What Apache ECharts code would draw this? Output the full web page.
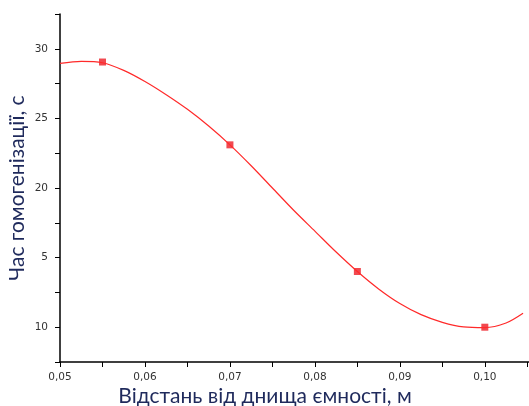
<!DOCTYPE html>
<html>
<head>
<meta charset="utf-8">
<script src="https://cdn.jsdelivr.net/npm/echarts@6/dist/echarts.min.js"></script>
<style>
  html, body { margin: 0; padding: 0; background: #fff; }
  #chart1 { width: 529px; height: 406px; }
</style>
</head>
<body>
<div id="chart1"></div>
<script>
// measured points
var pointX = [0.055, 0.070, 0.085, 0.100];
var pointY = [29.05, 23.1, 14.0, 10.0];

// fitted curve
var curveX = [0.050, 0.0525, 0.055, 0.0575, 0.060, 0.0625, 0.065, 0.0675, 0.070, 0.0725, 0.075,
              0.0775, 0.080, 0.0825, 0.085, 0.0875, 0.090, 0.0925, 0.095, 0.0975, 0.100, 0.1025, 0.1045];
var curveY = [28.95, 29.1, 29.0, 28.45, 27.65, 26.7, 25.65, 24.45, 23.1, 21.6, 20.0,
              18.4, 16.9, 15.4, 14.0, 12.75, 11.7, 10.9, 10.35, 10.02, 9.97, 10.3, 11.0];

// y tick labels as printed on the original
var yTickLabels = { '10': '10', '15': '5', '20': '20', '25': '25', '30': '30' };

var curve = curveX.map(function (x, i) { return [x, curveY[i]]; });
var points = pointX.map(function (x, i) { return [x, pointY[i]]; });

var weChart = echarts.init(document.getElementById('chart1'));
var option = {
    backgroundColor: '#fff',
    animation: false,
    grid: { left: 60, top: 14, right: 0, bottom: 44, outerBoundsMode: 'none', containLabel: false },
    xAxis: {
        type: 'value',
        min: 0.05,
        max: 0.1052,
        interval: 0.005,
        name: 'Відстань від днища ємності, м',
        nameLocation: 'middle',
        nameGap: 24,
        nameMoveOverlap: false,
        nameTextStyle: { color: '#1f2a5c', fontFamily: 'Lato', fontSize: 21, padding: [0, 59, 0, 0] },
        axisLine: { lineStyle: { color: '#000', width: 1.5 } },
        axisTick: { length: 5, lineStyle: { color: '#000' } },
        splitLine: { show: false },
        axisLabel: {
            color: '#333',
            fontFamily: 'DejaVu Sans',
            fontSize: 10.5,
            margin: 10,
            showMaxLabel: false,
            formatter: function (v) {
                var k = Math.round(v * 1000);
                if (k % 10 !== 0) return '';
                return (k / 1000).toFixed(2).replace('.', ',');
            }
        }
    },
    yAxis: {
        type: 'value',
        min: 7.5,
        max: 32.5,
        interval: 2.5,
        name: 'Час гомогенізації, с',
        nameLocation: 'middle',
        nameGap: 32,
        nameMoveOverlap: false,
        nameTextStyle: { color: '#1f2a5c', fontFamily: 'Lato', fontSize: 21 },
        axisLine: { show: true, lineStyle: { color: '#000', width: 1.5 } },
        axisTick: { length: 5, lineStyle: { color: '#000' } },
        splitLine: { show: false },
        axisLabel: {
            color: '#333',
            fontFamily: 'DejaVu Sans',
            fontSize: 10.5,
            margin: 12,
            formatter: function (v) {
                return yTickLabels[String(v)] || '';
            }
        }
    },
    series: [
        {
            type: 'line',
            data: curve,
            smooth: 0.3,
            showSymbol: false,
            lineStyle: { color: '#ff2a2a', width: 1.2 }
        },
        {
            type: 'scatter',
            data: points,
            symbol: 'rect',
            symbolSize: 7,
            itemStyle: { color: '#ee1c24' }
        }
    ]
};
weChart.setOption(option, true);
</script>
</body>
</html>
